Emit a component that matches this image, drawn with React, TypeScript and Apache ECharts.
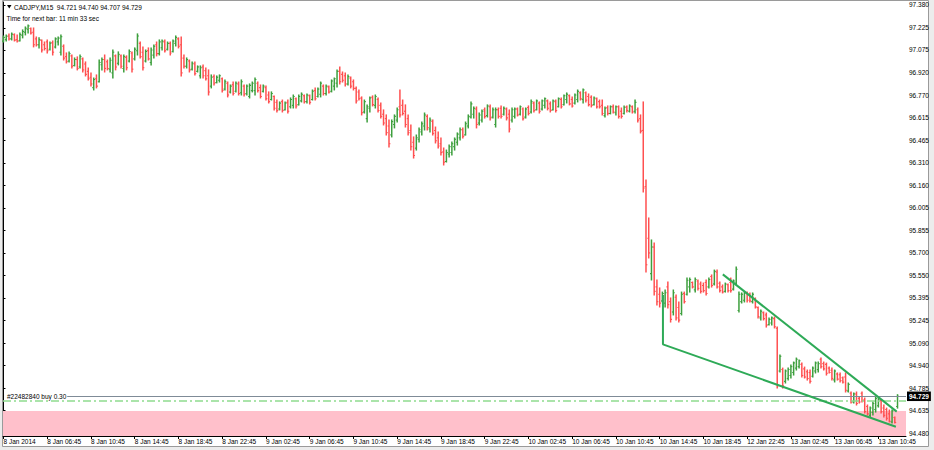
import React, { useEffect, useRef } from 'react';
import * as echarts from 'echarts';

// ---- tick labels ----
const xTickLabels = [
  '8 Jan 2014', '8 Jan 06:45', '8 Jan 10:45', '8 Jan 14:45', '8 Jan 18:45', '8 Jan 22:45',
  '9 Jan 02:45', '9 Jan 06:45', '9 Jan 10:45', '9 Jan 14:45', '9 Jan 18:45', '9 Jan 22:45',
  '10 Jan 02:45', '10 Jan 06:45', '10 Jan 10:45', '10 Jan 14:45', '10 Jan 18:45',
  '12 Jan 22:45', '13 Jan 02:45', '13 Jan 06:45', '13 Jan 10:45',
];
const barsPerLabel = 16;
const yTickLabels = [
  '94.480', '94.635', '94.785', '94.940', '95.090', '95.245', '95.395', '95.550', '95.700', '95.855',
  '96.005', '96.160', '96.310', '96.465', '96.615', '96.770', '96.920', '97.075', '97.225', '97.380',
];

// ---- OHLC bars, M15: [open, high, low, close] ----
const bars8Jan = [
  [97.135, 97.170, 97.129, 97.160], [97.145, 97.177, 97.136, 97.168], [97.170, 97.184, 97.143, 97.150], [97.150, 97.190, 97.143, 97.182],
  [97.178, 97.184, 97.136, 97.142], [97.145, 97.177, 97.129, 97.135], [97.138, 97.190, 97.136, 97.180], [97.175, 97.211, 97.157, 97.200],
  [97.195, 97.231, 97.177, 97.222], [97.215, 97.245, 97.190, 97.238], [97.220, 97.224, 97.184, 97.190], [97.195, 97.224, 97.096, 97.110],
  [97.150, 97.163, 97.102, 97.110], [97.110, 97.157, 97.089, 97.145], [97.140, 97.143, 97.062, 97.075], [97.110, 97.129, 97.075, 97.085],
  [97.130, 97.143, 97.055, 97.070], [97.080, 97.129, 97.075, 97.120], [97.125, 97.136, 97.041, 97.060], [97.095, 97.157, 97.089, 97.150],
  [97.130, 97.163, 97.109, 97.155], [97.060, 97.177, 97.041, 97.165], [97.100, 97.109, 97.007, 97.020], [97.030, 97.055, 96.987, 96.995],
  [97.000, 97.062, 96.994, 97.050], [97.035, 97.041, 96.953, 96.965], [96.970, 97.021, 96.967, 97.010], [97.010, 97.028, 96.940, 96.950],
  [96.960, 97.041, 96.953, 97.030], [97.015, 97.021, 96.926, 96.940], [96.980, 96.994, 96.899, 96.910], [96.930, 96.953, 96.872, 96.880],
  [96.890, 96.919, 96.831, 96.845], [96.820, 96.885, 96.804, 96.875], [96.880, 96.906, 96.818, 96.830], [96.860, 97.007, 96.858, 96.990],
  [96.975, 97.021, 96.940, 97.010], [97.010, 97.041, 96.926, 96.950], [96.995, 97.007, 96.940, 96.950], [96.945, 97.021, 96.926, 97.005],
  [96.920, 97.075, 96.885, 97.060], [97.035, 97.041, 96.940, 96.960], [96.985, 97.062, 96.974, 97.045], [97.035, 97.041, 96.953, 96.965],
  [96.950, 97.041, 96.926, 97.030], [97.025, 97.035, 96.940, 96.955], [97.000, 97.075, 96.994, 97.065], [97.055, 97.062, 96.926, 96.945],
  [97.015, 97.089, 97.007, 97.080], [97.070, 97.184, 97.041, 97.170], [97.120, 97.129, 97.021, 97.030], [97.060, 97.096, 96.940, 96.955],
  [97.000, 97.075, 96.994, 97.065], [97.070, 97.089, 97.007, 97.015], [96.990, 97.089, 96.974, 97.075], [97.040, 97.109, 97.021, 97.100],
  [97.110, 97.129, 97.035, 97.050], [97.050, 97.143, 97.041, 97.130], [97.090, 97.143, 97.075, 97.135], [97.130, 97.143, 97.062, 97.070],
  [97.080, 97.129, 97.075, 97.120], [97.120, 97.129, 97.041, 97.055], [97.065, 97.143, 97.062, 97.135], [97.120, 97.170, 97.102, 97.160],
  [97.150, 97.157, 97.089, 97.100], [97.110, 97.163, 96.899, 96.920], [97.020, 97.041, 96.953, 96.965], [96.965, 97.021, 96.953, 97.010],
  [97.000, 97.007, 96.926, 96.940], [96.945, 96.994, 96.940, 96.985], [96.980, 96.994, 96.906, 96.915], [96.930, 96.967, 96.926, 96.960],
  [96.900, 96.967, 96.885, 96.955], [96.960, 96.974, 96.885, 96.900], [96.935, 96.953, 96.872, 96.880], [96.900, 96.940, 96.770, 96.790],
  [96.830, 96.906, 96.818, 96.890], [96.895, 96.906, 96.838, 96.850], [96.855, 96.899, 96.852, 96.890], [96.870, 96.906, 96.858, 96.900],
  [96.880, 96.885, 96.791, 96.800], [96.810, 96.872, 96.804, 96.860],
];
const bars9Jan = [
  [96.850, 96.858, 96.757, 96.770], [96.790, 96.838, 96.784, 96.830], [96.840, 96.858, 96.770, 96.780], [96.795, 96.858, 96.791, 96.850],
  [96.845, 96.858, 96.770, 96.780], [96.785, 96.872, 96.770, 96.860], [96.830, 96.838, 96.764, 96.775], [96.780, 96.838, 96.770, 96.830],
  [96.760, 96.845, 96.750, 96.835], [96.800, 96.858, 96.791, 96.850], [96.800, 96.885, 96.770, 96.875], [96.850, 96.858, 96.791, 96.800],
  [96.820, 96.838, 96.750, 96.760], [96.795, 96.838, 96.791, 96.830], [96.820, 96.831, 96.736, 96.745], [96.770, 96.791, 96.716, 96.725],
  [96.740, 96.791, 96.736, 96.780], [96.760, 96.764, 96.669, 96.680], [96.720, 96.736, 96.655, 96.665], [96.675, 96.723, 96.669, 96.715],
  [96.725, 96.736, 96.655, 96.665], [96.670, 96.723, 96.669, 96.715], [96.720, 96.736, 96.648, 96.660], [96.690, 96.750, 96.682, 96.740],
  [96.700, 96.770, 96.682, 96.760], [96.745, 96.750, 96.682, 96.695], [96.705, 96.770, 96.703, 96.760], [96.730, 96.784, 96.723, 96.775],
  [96.765, 96.770, 96.716, 96.725], [96.725, 96.777, 96.716, 96.770], [96.765, 96.770, 96.709, 96.720], [96.740, 96.804, 96.736, 96.795],
  [96.800, 96.818, 96.736, 96.745], [96.760, 96.818, 96.757, 96.810], [96.775, 96.858, 96.757, 96.850], [96.830, 96.838, 96.770, 96.780],
  [96.780, 96.838, 96.770, 96.830], [96.825, 96.831, 96.784, 96.790], [96.795, 96.872, 96.791, 96.865], [96.830, 96.885, 96.804, 96.880],
  [96.850, 96.940, 96.824, 96.930], [96.930, 96.960, 96.845, 96.860], [96.910, 96.926, 96.858, 96.870], [96.900, 96.919, 96.831, 96.845],
  [96.845, 96.906, 96.838, 96.895], [96.885, 96.892, 96.818, 96.830], [96.860, 96.872, 96.804, 96.815], [96.815, 96.824, 96.716, 96.730],
  [96.790, 96.804, 96.736, 96.745], [96.750, 96.757, 96.635, 96.650], [96.655, 96.736, 96.648, 96.725], [96.610, 96.703, 96.587, 96.690],
  [96.680, 96.757, 96.655, 96.750], [96.755, 96.764, 96.696, 96.705], [96.700, 96.770, 96.682, 96.760], [96.740, 96.750, 96.655, 96.665],
  [96.700, 96.716, 96.614, 96.625], [96.640, 96.669, 96.567, 96.580], [96.610, 96.635, 96.499, 96.515], [96.560, 96.601, 96.418, 96.440],
  [96.500, 96.601, 96.486, 96.590], [96.570, 96.635, 96.547, 96.625], [96.600, 96.682, 96.587, 96.670], [96.690, 96.804, 96.621, 96.635],
  [96.700, 96.736, 96.635, 96.645], [96.660, 96.703, 96.553, 96.570], [96.610, 96.635, 96.499, 96.515], [96.530, 96.567, 96.397, 96.420],
  [96.450, 96.486, 96.343, 96.360], [96.410, 96.499, 96.397, 96.480], [96.470, 96.547, 96.452, 96.535], [96.520, 96.587, 96.499, 96.575],
  [96.560, 96.648, 96.533, 96.635], [96.625, 96.635, 96.533, 96.550], [96.540, 96.614, 96.520, 96.600], [96.590, 96.601, 96.499, 96.510],
  [96.530, 96.553, 96.445, 96.460], [96.480, 96.520, 96.411, 96.425], [96.440, 96.479, 96.364, 96.380], [96.385, 96.411, 96.296, 96.315],
  [96.320, 96.397, 96.316, 96.380], [96.370, 96.431, 96.350, 96.420], [96.380, 96.452, 96.364, 96.440], [96.420, 96.479, 96.397, 96.470],
  [96.450, 96.513, 96.431, 96.505], [96.480, 96.547, 96.465, 96.535], [96.535, 96.547, 96.479, 96.490], [96.500, 96.587, 96.499, 96.575],
  [96.560, 96.635, 96.547, 96.625], [96.620, 96.723, 96.614, 96.710],
];
const bars10Jan = [
  [96.640, 96.689, 96.614, 96.680], [96.675, 96.689, 96.547, 96.570], [96.580, 96.648, 96.567, 96.635], [96.600, 96.669, 96.587, 96.660],
  [96.670, 96.682, 96.614, 96.625], [96.630, 96.703, 96.621, 96.695], [96.690, 96.703, 96.601, 96.615], [96.620, 96.682, 96.614, 96.670],
  [96.570, 96.682, 96.553, 96.670], [96.670, 96.682, 96.614, 96.625], [96.680, 96.696, 96.614, 96.625], [96.640, 96.689, 96.635, 96.680],
  [96.675, 96.682, 96.601, 96.615], [96.640, 96.669, 96.520, 96.540], [96.600, 96.682, 96.587, 96.670], [96.625, 96.682, 96.614, 96.675],
  [96.675, 96.682, 96.628, 96.635], [96.640, 96.696, 96.635, 96.690], [96.675, 96.682, 96.601, 96.610], [96.620, 96.682, 96.614, 96.675],
  [96.685, 96.696, 96.635, 96.645], [96.655, 96.736, 96.648, 96.725], [96.715, 96.723, 96.655, 96.665], [96.670, 96.736, 96.669, 96.730],
  [96.715, 96.723, 96.648, 96.660], [96.675, 96.736, 96.669, 96.730], [96.700, 96.750, 96.682, 96.745], [96.730, 96.736, 96.669, 96.680],
  [96.710, 96.723, 96.655, 96.665], [96.670, 96.736, 96.669, 96.730], [96.725, 96.736, 96.655, 96.665], [96.690, 96.750, 96.689, 96.745],
  [96.740, 96.750, 96.682, 96.690], [96.705, 96.770, 96.703, 96.765], [96.740, 96.784, 96.716, 96.775], [96.765, 96.770, 96.703, 96.710],
  [96.740, 96.757, 96.689, 96.695], [96.715, 96.777, 96.709, 96.770], [96.740, 96.804, 96.723, 96.795], [96.785, 96.791, 96.736, 96.745],
  [96.740, 96.811, 96.716, 96.805], [96.785, 96.791, 96.723, 96.735], [96.760, 96.777, 96.696, 96.705], [96.755, 96.764, 96.689, 96.700],
  [96.705, 96.757, 96.703, 96.750], [96.745, 96.750, 96.682, 96.690], [96.725, 96.736, 96.682, 96.690], [96.700, 96.736, 96.635, 96.645],
  [96.630, 96.689, 96.621, 96.680], [96.685, 96.696, 96.635, 96.645], [96.645, 96.696, 96.642, 96.690], [96.690, 96.703, 96.648, 96.655],
  [96.650, 96.696, 96.635, 96.690], [96.690, 96.696, 96.614, 96.625], [96.660, 96.682, 96.614, 96.625], [96.645, 96.696, 96.642, 96.685],
  [96.690, 96.696, 96.655, 96.665], [96.660, 96.703, 96.655, 96.695], [96.690, 96.696, 96.648, 96.655], [96.660, 96.736, 96.648, 96.720],
  [96.670, 96.682, 96.587, 96.600], [96.610, 96.635, 96.513, 96.525], [96.530, 96.723, 96.113, 96.140], [96.150, 96.194, 95.571, 95.620],
  [95.800, 95.937, 95.666, 95.700], [95.560, 95.788, 95.517, 95.740], [95.740, 95.768, 95.415, 95.440], [95.470, 95.517, 95.347, 95.370],
  [95.420, 95.463, 95.334, 95.360], [95.375, 95.435, 95.368, 95.425], [95.360, 95.449, 95.334, 95.430], [95.470, 95.503, 95.327, 95.350],
  [95.370, 95.395, 95.232, 95.250], [95.300, 95.449, 95.280, 95.430], [95.400, 95.415, 95.246, 95.260], [95.330, 95.368, 95.232, 95.245],
  [95.290, 95.435, 95.280, 95.420], [95.425, 95.435, 95.361, 95.370], [95.420, 95.530, 95.415, 95.515], [95.470, 95.530, 95.435, 95.520],
  [95.500, 95.503, 95.463, 95.470], [95.450, 95.530, 95.435, 95.520],
];
const bars13Jan = [
  [95.510, 95.517, 95.449, 95.460], [95.490, 95.503, 95.429, 95.440], [95.480, 95.496, 95.435, 95.445], [95.500, 95.517, 95.415, 95.425],
  [95.470, 95.530, 95.463, 95.520], [95.540, 95.551, 95.469, 95.480], [95.490, 95.584, 95.483, 95.575], [95.570, 95.584, 95.463, 95.470],
  [95.495, 95.503, 95.435, 95.445], [95.470, 95.483, 95.429, 95.435], [95.440, 95.496, 95.435, 95.490], [95.485, 95.490, 95.435, 95.445],
  [95.500, 95.530, 95.435, 95.445], [95.455, 95.517, 95.449, 95.510], [95.495, 95.605, 95.483, 95.590], [95.310, 95.435, 95.300, 95.420],
  [95.370, 95.429, 95.361, 95.420], [95.380, 95.435, 95.368, 95.430], [95.425, 95.435, 95.368, 95.380], [95.420, 95.429, 95.368, 95.375],
  [95.370, 95.429, 95.361, 95.420], [95.390, 95.395, 95.327, 95.335], [95.330, 95.334, 95.259, 95.270], [95.260, 95.313, 95.246, 95.305],
  [95.295, 95.300, 95.246, 95.255], [95.280, 95.293, 95.198, 95.210], [95.215, 95.259, 95.212, 95.250], [95.225, 95.266, 95.212, 95.260],
  [95.255, 95.266, 95.192, 95.200], [95.190, 95.198, 94.785, 94.800], [94.900, 95.009, 94.893, 95.000], [94.910, 94.920, 94.785, 94.800],
  [94.830, 94.907, 94.819, 94.900], [94.850, 94.920, 94.839, 94.910], [94.870, 94.941, 94.853, 94.930], [94.890, 94.961, 94.873, 94.955],
  [94.920, 94.988, 94.907, 94.980], [94.930, 94.975, 94.920, 94.970], [94.945, 94.954, 94.859, 94.870], [94.915, 94.927, 94.853, 94.860],
  [94.895, 94.907, 94.839, 94.850], [94.890, 94.907, 94.819, 94.830], [94.865, 94.927, 94.859, 94.920], [94.900, 94.961, 94.887, 94.955],
  [94.910, 94.961, 94.893, 94.950], [94.980, 94.988, 94.920, 94.930], [94.950, 94.961, 94.907, 94.915], [94.945, 94.954, 94.873, 94.885],
  [94.920, 94.927, 94.887, 94.890], [94.905, 94.920, 94.839, 94.850], [94.840, 94.907, 94.826, 94.900], [94.880, 94.887, 94.839, 94.845],
  [94.875, 94.887, 94.826, 94.835], [94.855, 94.859, 94.819, 94.825], [94.860, 94.887, 94.758, 94.770], [94.765, 94.819, 94.758, 94.810],
  [94.750, 94.758, 94.683, 94.690], [94.690, 94.751, 94.683, 94.745], [94.745, 94.758, 94.670, 94.680], [94.715, 94.724, 94.683, 94.690],
  [94.750, 94.758, 94.690, 94.700], [94.705, 94.717, 94.616, 94.625], [94.660, 94.670, 94.602, 94.610], [94.600, 94.656, 94.588, 94.650],
  [94.620, 94.690, 94.602, 94.680], [94.640, 94.724, 94.622, 94.715], [94.665, 94.717, 94.656, 94.710], [94.700, 94.704, 94.616, 94.625],
  [94.650, 94.670, 94.588, 94.600], [94.640, 94.649, 94.568, 94.580], [94.610, 94.636, 94.555, 94.560], [94.555, 94.636, 94.548, 94.630],
  [94.585, 94.588, 94.548, 94.552], [94.660, 94.740, 94.649, 94.729],
];

// ---- drawn objects (bar index, price) ----
const trendLower = [[241.2, 95.415], [241.2, 95.081], [326.4, 94.523]];
const trendUpper = [[263.1, 95.555], [326.7, 94.625]];
const pinkZoneTop = 94.629;
const orderPrice = 94.699;
const bidPrice = 94.729;
const bidLineStart = 23.3;
const orderLabel = '#22482840 buy 0.30';
const headerLine1 = 'CADJPY,M15  94.721 94.740 94.707 94.729';
const headerLine2 = 'Time for next bar: 11 min 33 sec';

const X_MIN = -0.18;
const X_MAX = 330.1;
const Y_MIN = 94.46;
const Y_MAX = 97.4;

const GREEN = '#3d9f3d';
const RED = '#ff5050';
const TREND = '#2eaa57';
const FONT = '"Liberation Sans", Arial, sans-serif';

export default function App() {
  const ref = useRef<HTMLDivElement>(null);

  useEffect(() => {
    if (!ref.current) return;
    const chart = echarts.init(ref.current, undefined, { renderer: 'svg' });
    const allBars = [...bars8Jan, ...bars9Jan, ...bars10Jan, ...bars13Jan];
    const data = allBars.map((b, i) => [i, b[0], b[1], b[2], b[3]]);
    const xTickVals = xTickLabels.map((_, k) => k * barsPerLabel);
    const yTickVals = yTickLabels.map(Number);

    const option: any = {
      animation: false,
      backgroundColor: 'transparent',
      grid: { left: 3, right: 28, top: 2, bottom: 14, containLabel: false },
      xAxis: {
        type: 'value',
        min: X_MIN,
        max: X_MAX,
        position: 'bottom',
        axisLine: { show: true, onZero: false, lineStyle: { color: '#000', width: 1 } },
        axisTick: { show: true, customValues: xTickVals, length: 3, lineStyle: { color: '#000' } },
        axisLabel: {
          customValues: xTickVals,
          formatter: (v: number) => xTickLabels[Math.round(v / barsPerLabel)] ?? '',
          align: 'left',
          fontSize: 6.5,
          fontFamily: FONT,
          color: '#000',
          margin: 2,
        },
        splitLine: { show: false },
      },
      yAxis: {
        type: 'value',
        position: 'right',
        min: Y_MIN,
        max: Y_MAX,
        axisLine: { show: true, lineStyle: { color: '#000', width: 1 } },
        axisTick: { show: true, customValues: yTickVals, length: 2, lineStyle: { color: '#000' } },
        axisLabel: {
          customValues: yTickVals,
          formatter: (v: number) => v.toFixed(3),
          fontSize: 6.5,
          fontFamily: FONT,
          color: '#000',
          margin: 3,
        },
        splitLine: { show: false },
      },
      graphic: [
        {
          type: 'rect',
          z: -10,
          shape: { x: 2.5, y: 0.5, width: 926, height: 446 },
          style: { fill: '#fff', stroke: '#9a9a9a', lineWidth: 1 },
        },
        {
          type: 'polygon',
          z: 10,
          shape: { points: [[7, 5], [11.5, 5], [9.25, 8.5]] },
          style: { fill: '#000' },
        },
        {
          type: 'text',
          z: 10,
          x: 14,
          y: 7,
          style: { text: headerLine1, font: `6.5px ${FONT}`, fill: '#000', textVerticalAlign: 'middle' },
        },
        {
          type: 'text',
          z: 10,
          x: 6.5,
          y: 18,
          style: { text: headerLine2, font: `6.5px ${FONT}`, fill: '#000', textVerticalAlign: 'middle' },
        },
      ],
      series: [
        {
          type: 'line',
          data: [],
          z: 1,
          silent: true,
          markArea: {
            silent: true,
            itemStyle: { color: '#ffc0cb', opacity: 1 },
            data: [[{ coord: [X_MIN, pinkZoneTop] }, { coord: [X_MAX, Y_MIN] }]],
          },
        },
        {
          type: 'custom',
          z: 3,
          silent: true,
          data,
          encode: { x: 0, y: [1, 2, 3, 4] },
          renderItem: (_params: any, api: any) => {
            const i = api.value(0);
            const o = api.value(1);
            const h = api.value(2);
            const l = api.value(3);
            const c = api.value(4);
            const [x, yh] = api.coord([i, h]);
            const yl = api.coord([i, l])[1];
            const yo = api.coord([i, o])[1];
            const yc = api.coord([i, c])[1];
            const color = c >= o ? GREEN : RED;
            return {
              type: 'group',
              children: [
                { type: 'line', shape: { x1: x, y1: yh - 0.5, x2: x, y2: yl + 0.5 }, style: { stroke: color, lineWidth: 1.5 } },
                { type: 'line', shape: { x1: x - 1.4, y1: yo, x2: x, y2: yo }, style: { stroke: color, lineWidth: 1.1 } },
                { type: 'line', shape: { x1: x, y1: yc, x2: x + 1.4, y2: yc }, style: { stroke: color, lineWidth: 1.1 } },
              ],
            };
          },
        },
        {
          type: 'line',
          z: 5,
          silent: true,
          data: trendLower,
          showSymbol: false,
          symbol: 'none',
          lineStyle: { color: TREND, width: 2 },
        },
        {
          type: 'line',
          z: 5,
          silent: true,
          data: trendUpper,
          showSymbol: false,
          symbol: 'none',
          lineStyle: { color: TREND, width: 2 },
        },
        {
          type: 'line',
          data: [],
          z: 6,
          silent: true,
          markLine: {
            silent: true,
            symbol: ['none', 'none'],
            data: [
              [
                {
                  coord: [X_MIN, orderPrice],
                  lineStyle: { color: '#8edc8e', width: 1.6, type: [8, 3, 2, 3] },
                  label: {
                    show: true,
                    position: 'insideStartTop',
                    formatter: orderLabel,
                    fontSize: 6.5,
                    fontFamily: FONT,
                    color: '#000',
                    distance: [4, 1],
                  },
                },
                { coord: [X_MAX, orderPrice] },
              ],
              [
                {
                  coord: [bidLineStart, bidPrice],
                  lineStyle: { color: '#7f8b97', width: 1, type: 'solid' },
                  label: {
                    show: true,
                    position: 'end',
                    formatter: bidPrice.toFixed(3),
                    fontSize: 6.5,
                    fontFamily: FONT,
                    fontWeight: 'bold',
                    color: '#fff',
                    backgroundColor: '#000',
                    padding: [1.5, 2, 1, 2],
                    distance: 1,
                  },
                },
                { coord: [X_MAX, bidPrice] },
              ],
            ],
          },
        },
      ],
    };

    chart.setOption(option);
    return () => chart.dispose();
  }, []);

  return (
    <div style={{ position: 'fixed', left: 0, top: 0, width: 934, height: 450, background: '#ececec' }}>
      <div ref={ref} style={{ width: 934, height: 450 }} />
    </div>
  );
}
